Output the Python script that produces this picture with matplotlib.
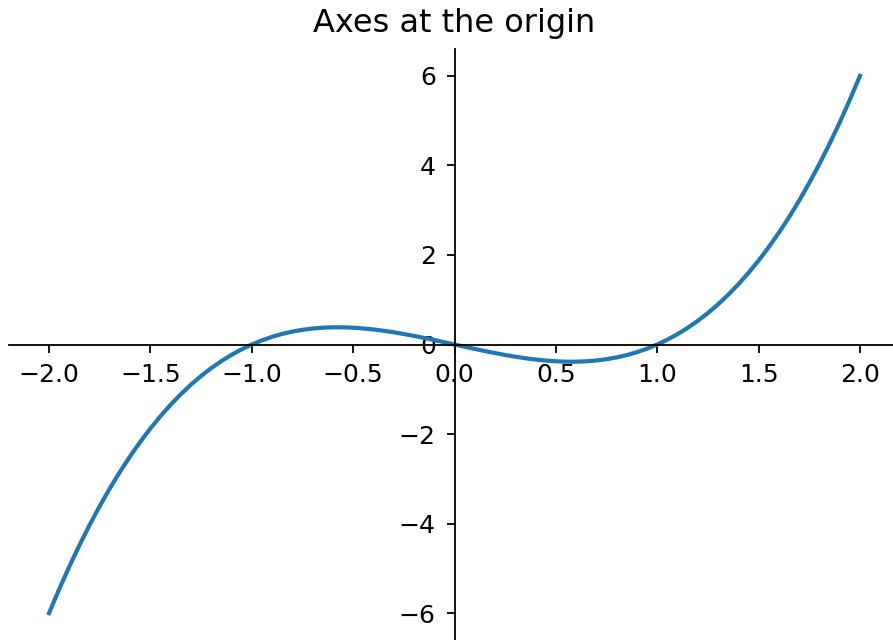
import matplotlib
matplotlib.use('Agg')
import matplotlib.pyplot as plt

# values, x step 0.05
x_vals = [-2.0, -1.95, -1.9, -1.85, -1.8, -1.75, -1.7, -1.65, -1.6, -1.55,
          -1.5, -1.45, -1.4, -1.35, -1.3, -1.25, -1.2, -1.15, -1.1, -1.05,
          -1.0, -0.95, -0.9, -0.85, -0.8, -0.75, -0.7, -0.65, -0.6, -0.55,
          -0.5, -0.45, -0.4, -0.35, -0.3, -0.25, -0.2, -0.15, -0.1, -0.05,
          0.0, 0.05, 0.1, 0.15, 0.2, 0.25, 0.3, 0.35, 0.4, 0.45,
          0.5, 0.55, 0.6, 0.65, 0.7, 0.75, 0.8, 0.85, 0.9, 0.95,
          1.0, 1.05, 1.1, 1.15, 1.2, 1.25, 1.3, 1.35, 1.4, 1.45,
          1.5, 1.55, 1.6, 1.65, 1.7, 1.75, 1.8, 1.85, 1.9, 1.95, 2.0]
y_vals = [-6.0, -5.465, -4.959, -4.482, -4.032, -3.609, -3.213, -2.842, -2.496, -2.174,
          -1.875, -1.599, -1.344, -1.110, -0.897, -0.703, -0.528, -0.371, -0.231, -0.108,
          0.0, 0.093, 0.171, 0.236, 0.288, 0.328, 0.357, 0.375, 0.384, 0.384,
          0.375, 0.359, 0.336, 0.307, 0.273, 0.234, 0.192, 0.147, 0.099, 0.050,
          0.0, -0.050, -0.099, -0.147, -0.192, -0.234, -0.273, -0.307, -0.336, -0.359,
          -0.375, -0.384, -0.384, -0.375, -0.357, -0.328, -0.288, -0.236, -0.171, -0.093,
          0.0, 0.108, 0.231, 0.371, 0.528, 0.703, 0.897, 1.110, 1.344, 1.599,
          1.875, 2.174, 2.496, 2.842, 3.213, 3.609, 4.032, 4.482, 4.959, 5.465, 6.0]
x_ticks = [-2.0, -1.5, -1.0, -0.5, 0.0, 0.5, 1.0, 1.5, 2.0]
y_ticks = [-6, -4, -2, 0, 2, 4, 6]

fig = plt.figure(figsize=(8.93, 6.4), dpi=100)
ax = fig.add_axes([8.5 / 893, 0.0, 892 / 893, 591 / 640])

ax.plot(x_vals, y_vals, color='#1f77b4', linewidth=3.0, solid_joinstyle='round')
ax.set_xlim(-2.2, 2.2)
ax.set_ylim(-6.6, 6.6)

ax.spines['left'].set_position('zero')
ax.spines['bottom'].set_position('zero')
ax.spines['right'].set_visible(False)
ax.spines['top'].set_visible(False)
for s in ['left', 'bottom']:
    ax.spines[s].set_linewidth(1.3)

ax.set_xticks(x_ticks)
ax.set_xticklabels([f'{v:.1f}'.replace('-', '\u2212') for v in x_ticks])
ax.set_yticks(y_ticks)
ax.set_yticklabels([str(v).replace('-', '\u2212') for v in y_ticks])
ax.tick_params(labelsize=18, length=5.5, width=1.3, pad=8)

ax.set_title('Axes at the origin', fontsize=23, pad=12)

fig.savefig('out.png', dpi=100)
